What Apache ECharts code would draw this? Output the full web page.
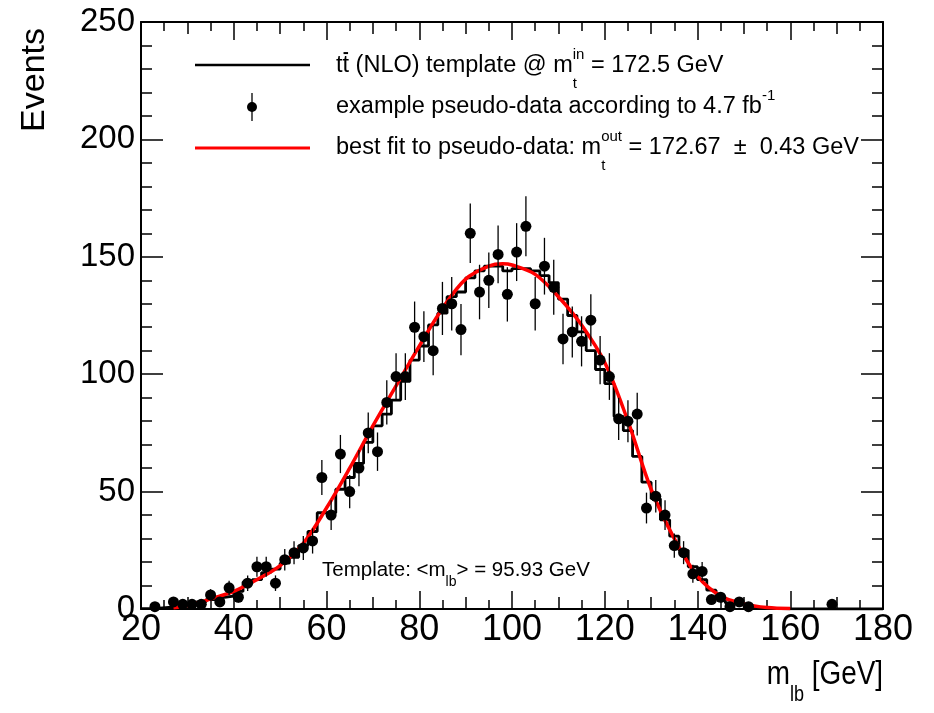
<!DOCTYPE html>
<html>
<head>
<meta charset="utf-8">
<script src="https://cdn.jsdelivr.net/npm/echarts@6/dist/echarts.min.js"></script>
<style>
html,body{margin:0;padding:0;background:#fff;}
#chart{width:934px;height:713px;}
</style>
</head>
<body>
<div id="chart"></div>
<script>
// ---- data ----
const binLow = 20;
const binWidth = 2;
const nBins = 80;
// template histogram (NLO, mt = 172.5 GeV), one value per 2 GeV bin from 20 to 180
const templateValues = [
  0.2, 0.4, 0.7, 1.0, 1.5, 2.0, 3.0, 4.0, 5.0, 5.5,
  7.5, 11.5, 12.5, 15.5, 17, 19.5, 22, 27, 33, 41,
  41, 51, 56, 62, 71, 78, 83, 89, 97, 106,
  112, 121, 126, 133, 135, 141, 144, 146, 146, 144,
  145, 145, 144, 142, 139, 132, 125, 118, 110, 102,
  96, 82, 76, 65, 54, 47, 38, 31, 25, 18,
  12.5, 8, 5, 2.6, 1.8, 0.8, 0.5, 0.3, 0.2, 0.1,
  0.05, 0.05, 0, 0, 0, 0, 0, 0, 0, 0
];
// pseudo-data counts per bin
const dataValues = [
  0, 1, 0, 3, 2, 2, 2, 6, 3, 9,
  5, 11, 18, 18, 11, 21, 24, 26, 29, 56,
  40, 66, 50, 60, 75, 67, 88, 99, 99, 120,
  116, 110, 128, 130, 119, 160, 135, 140, 151, 134,
  152, 163, 130, 146, 137, 115, 118, 114, 123, 106,
  99, 81, 80, 83, 43, 48, 40, 27, 24, 15,
  16, 4, 5, 1, 3, 1, 0, 0, 0, 0,
  0, 0, 0, 0, 2, 0, 0, 0, 0, 0
];
// best-fit curve samples
const fitX = [27, 30, 33, 35, 40, 45, 50, 55, 60, 65, 70, 75, 80, 85, 90, 95, 98, 100, 105, 110, 115, 120, 125, 130, 135, 140, 145, 150, 155, 160];
const fitY = [0.5, 1.5, 3, 4.3, 7.5, 12.5, 18.5, 28, 43, 60, 78, 95, 112, 128, 140.5, 146, 147, 146.5, 142.5, 133, 121, 105, 80, 51, 30, 14, 5.5, 2.2, 0.6, 0.2];
const xTicks = [20, 40, 60, 80, 100, 120, 140, 160, 180];
const yTicks = [0, 50, 100, 150, 200, 250];

// ---- build series data ----
const histData = [];
for (let i = 0; i < nBins; i++) histData.push([binLow + i * binWidth, templateValues[i]]);
histData.push([binLow + nBins * binWidth, templateValues[nBins - 1]]);
const pointData = [];
for (let i = 0; i < nBins; i++) {
  if (dataValues[i] > 0) pointData.push([binLow + (i + 0.5) * binWidth, dataValues[i]]);
}
const fitData = fitX.map((x, i) => [x, fitY[i]]);

// ---- text helpers ----
const FONT = '"Liberation Sans", Arial, Helvetica, sans-serif';
const mctx = document.createElement('canvas').getContext('2d');
function tw(t, s) { mctx.font = s + 'px ' + FONT; return mctx.measureText(t).width; }
function runText(x, y, parts, anchor, sx) {
  sx = sx || 1;
  let cursor = 0, lastStart = 0, lastW = 0;
  const placed = [];
  parts.forEach(p => {
    const w = tw(p.t, p.s) * sx;
    let xs;
    if (p.stack) { xs = lastStart; lastW = Math.max(lastW, w); cursor = lastStart + lastW; }
    else { xs = cursor; lastStart = xs; lastW = w; cursor = xs + w; }
    placed.push({ p, xs, w });
  });
  const x0 = anchor === 'right' ? x - cursor : x;
  const els = [];
  placed.forEach(({ p, xs, w }) => {
    els.push({
      type: 'text', x: x0 + xs, y: y + (p.dy || 0), scaleX: sx, z: 100,
      style: { text: p.t, font: p.s + 'px ' + FONT, fill: '#000', textAlign: 'left', textVerticalAlign: 'middle' }
    });
    if (p.bar) {
      els.push({ type: 'line', z: 100, shape: { x1: x0 + xs + 1, y1: y - p.s * 0.55, x2: x0 + xs + w - 1, y2: y - p.s * 0.55 }, style: { stroke: '#000', lineWidth: 2 } });
    }
  });
  return els;
}

const graphics = [];
const LS = 23.5, LSS = 15;
// legend
graphics.push({ type: 'line', z: 100, shape: { x1: 195, y1: 65, x2: 310, y2: 65 }, style: { stroke: '#000', lineWidth: 2.5 } });
graphics.push(...runText(336, 66, [
  { t: 't', s: LS }, { t: 't', s: LS, bar: true }, { t: ' (NLO) template @ m', s: LS },
  { t: 'in', s: LSS, dy: -11 }, { t: 't', s: LSS, dy: 18, stack: true },
  { t: ' = 172.5 GeV', s: LS }
]));
graphics.push({ type: 'line', z: 100, shape: { x1: 252, y1: 93, x2: 252, y2: 121 }, style: { stroke: '#000', lineWidth: 1.3 } });
graphics.push({ type: 'circle', z: 100, shape: { cx: 252, cy: 107, r: 5 }, style: { fill: '#000' } });
graphics.push(...runText(336, 107, [
  { t: 'example pseudo-data according to 4.7 fb', s: LS },
  { t: '-1', s: LSS, dy: -11 }
]));
graphics.push({ type: 'line', z: 100, shape: { x1: 195, y1: 148, x2: 310, y2: 148 }, style: { stroke: '#ff0000', lineWidth: 3 } });
graphics.push(...runText(336, 148, [
  { t: 'best fit to pseudo-data: m', s: LS },
  { t: 'out', s: LSS, dy: -11 }, { t: 't', s: LSS, dy: 18, stack: true },
  { t: ' = 172.67  \u00b1  0.43 GeV', s: LS }
]));
// template annotation
graphics.push(...runText(322, 570, [
  { t: 'Template: <m', s: 20.5 }, { t: 'lb', s: 14, dy: 12 }, { t: '> = 95.93 GeV', s: 20.5 }
]));
// axis titles
graphics.push(...runText(883, 675, [
  { t: 'm', s: 34 }, { t: 'lb', s: 22, dy: 20 }, { t: ' [GeV]', s: 34 }
], 'right', 0.82));
graphics.push({
  type: 'text', x: 35, y: 28, rotation: Math.PI / 2, z: 100,
  style: { text: 'Events', font: '34px ' + FONT, fill: '#000', textAlign: 'right', textVerticalAlign: 'middle' }
});

const tickStyle = { color: '#000', width: 1.5 };
function xAx(pos, interval, len, labels, minor, line) {
  return {
    type: 'value', position: pos, min: xTicks[0], max: xTicks[xTicks.length - 1], interval: interval,
    axisLine: { show: line, onZero: false, lineStyle: { color: '#000', width: 2 } },
    axisTick: { show: true, inside: true, length: len, lineStyle: tickStyle },
    minorTick: { show: minor, splitNumber: 4, length: 9, lineStyle: tickStyle },
    axisLabel: { show: labels, fontSize: 36, color: '#000', fontFamily: FONT, margin: 3 },
    splitLine: { show: false }, minorSplitLine: { show: false }
  };
}
function yAx(pos, labels) {
  return {
    type: 'value', position: pos, min: yTicks[0], max: yTicks[yTicks.length - 1], interval: 50,
    axisLine: { show: true, onZero: false, lineStyle: { color: '#000', width: 2 } },
    axisTick: { show: true, inside: true, length: 22, lineStyle: tickStyle },
    minorTick: { show: true, splitNumber: 5, length: 11, lineStyle: tickStyle },
    axisLabel: { show: labels, fontSize: 33, color: '#000', fontFamily: FONT, margin: 6 },
    splitLine: { show: false }, minorSplitLine: { show: false }
  };
}

const chart = echarts.init(document.getElementById('chart'), null, { renderer: 'canvas' });
chart.setOption({
  animation: false,
  backgroundColor: '#fff',
  grid: { left: 141, top: 22, width: 742, height: 587 },
  xAxis: [
    xAx('bottom', 20, 18, true, true, true),
    xAx('bottom', 10, 12, false, false, false),
    xAx('top', 20, 18, false, true, true),
    xAx('top', 10, 12, false, false, false)
  ],
  yAxis: [yAx('left', true), yAx('right', false)],
  graphic: graphics,
  series: [
    {
      name: 'template', type: 'line', step: 'end', data: histData, showSymbol: false, symbol: 'none',
      lineStyle: { color: '#000', width: 2.8 }, z: 2, xAxisIndex: 0, yAxisIndex: 0
    },
    {
      name: 'fit', type: 'line', smooth: 0.35, data: fitData, showSymbol: false, symbol: 'none',
      lineStyle: { color: '#ff0000', width: 3.5 }, z: 3, xAxisIndex: 0, yAxisIndex: 0
    },
    {
      name: 'errors', type: 'custom', data: pointData, z: 4, xAxisIndex: 0, yAxisIndex: 0,
      renderItem: function (params, api) {
        const x = api.value(0), y = api.value(1), e = Math.sqrt(y);
        const p1 = api.coord([x, Math.max(0, y - e)]);
        const p2 = api.coord([x, y + e]);
        return { type: 'line', shape: { x1: p1[0], y1: p1[1], x2: p2[0], y2: p2[1] }, style: { stroke: '#000', lineWidth: 1.3 } };
      }
    },
    {
      name: 'data', type: 'scatter', data: pointData, symbol: 'circle', symbolSize: 11,
      itemStyle: { color: '#000', opacity: 1 }, z: 5, xAxisIndex: 0, yAxisIndex: 0
    }
  ]
});
</script>
</body>
</html>
